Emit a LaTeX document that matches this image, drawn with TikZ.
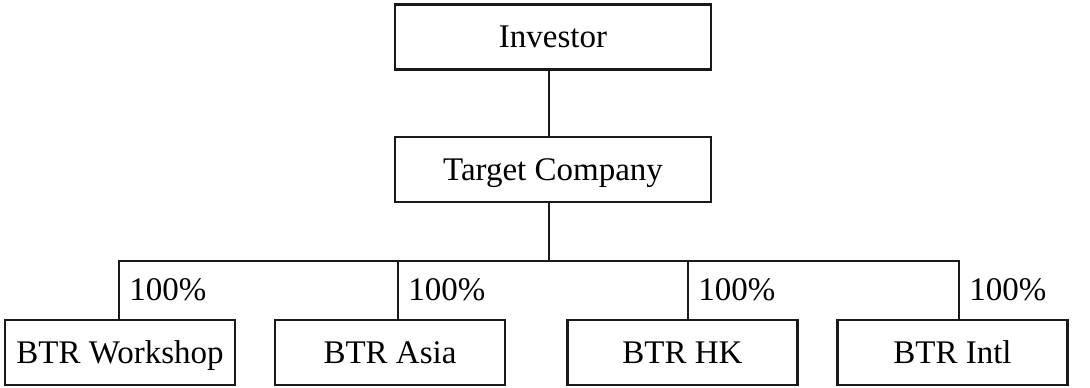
\documentclass[tikz,border=0pt]{standalone}
\usepackage{fontspec}
\setmainfont{Liberation Serif}
\begin{document}
\begin{tikzpicture}[x=0.5pt,y=-0.5pt,
  box/.style={draw=black!90,line width=1.1pt,inner sep=0pt,minimum height=32.5pt,text height=12pt,text depth=1.2pt,font=\fontsize{16.5}{20}\selectfont},
  topbox/.style={box,minimum width=158pt},
  subbox/.style={box,minimum width=115pt},
  pct/.style={inner sep=0pt,anchor=west,text height=12pt,text depth=1.2pt,font=\fontsize{16.5}{20}\selectfont},
  link/.style={draw=black!90,line width=1.1pt}]
\useasboundingbox (0,0) rectangle (1090,387);
\node[topbox] (inv) at (553,37) {Investor};
\node[topbox] (tgt) at (553,169.5) {Target Company};
\node[subbox] (ws) at (120,352.5) {BTR Workshop};
\node[subbox] (asia) at (390,352.5) {BTR Asia};
\node[subbox] (hk) at (682.5,352.5) {BTR HK};
\node[subbox] (intl) at (952.5,352.5) {BTR Intl};
\coordinate (trunk) at (549,0);
\coordinate (bar) at (0,261);
\coordinate (v1) at (119,261);
\coordinate (v2) at (398,261);
\coordinate (v3) at (688,261);
\coordinate (v4) at (959,261);
\draw[link] (inv.south -| trunk) -- (tgt.north -| trunk);
\draw[link] (tgt.south -| trunk) -- (trunk |- bar);
\draw[link] (ws.north -| v1) -- (v1) -- (v4) -- (intl.north -| v4);
\draw[link] (v2) -- (asia.north -| v2);
\draw[link] (v3) -- (hk.north -| v3);
\node[pct] (p1) at (129,290) {100\%};
\node[pct] (p2) at (408,290) {100\%};
\node[pct] (p3) at (698,290) {100\%};
\node[pct] (p4) at (969,290) {100\%};
\end{tikzpicture}
\end{document}
